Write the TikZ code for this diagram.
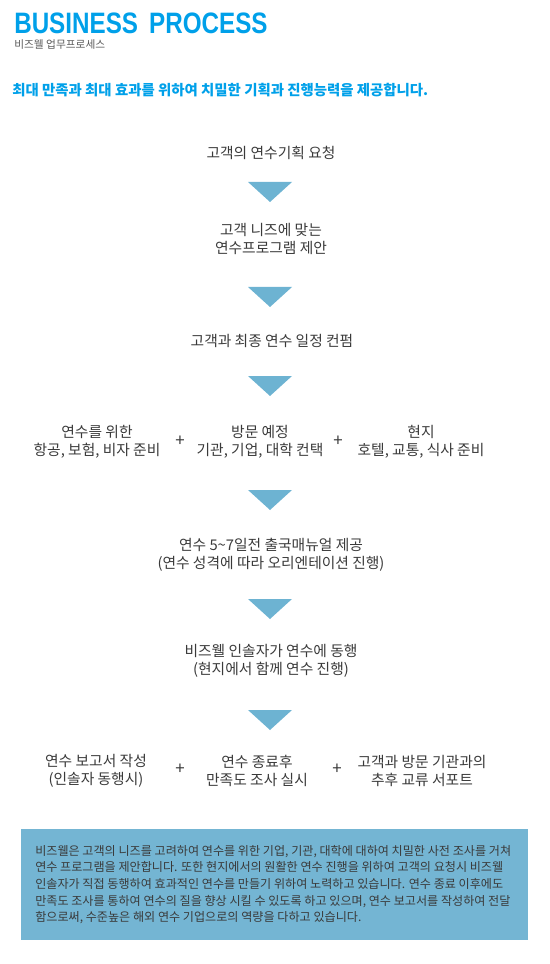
\documentclass[tikz,border=0pt]{standalone}
\usepackage{fontspec}
\usepackage{tikz}
\usetikzlibrary{positioning}
\setmainfont{Noto Sans CJK KR}
\newfontfamily\titlefont[FakeStretch=0.82]{Liberation Sans}

\definecolor{bizblue}{HTML}{00A0E9}
\definecolor{triblue}{HTML}{6DB3D2}
\definecolor{boxblue}{HTML}{74B5D3}
\definecolor{txtgray}{HTML}{3A3A3A}

\tikzset{
  steptxt/.style={text=txtgray,align=center,inner sep=0pt,
    font=\fontsize{10.5}{13.2}\selectfont},
  plussign/.style={text=txtgray,inner sep=0pt,font=\fontsize{12}{12}\selectfont},
  downtri/.style={fill=triblue},
}

\begin{document}
\begin{tikzpicture}[x=0.025cm,y=-0.025cm]
  \useasboundingbox (0,0) rectangle (550,964);

  % Heading
  \node[anchor=west,inner sep=0pt,text=bizblue,
    font=\titlefont\bfseries\fontsize{21}{21}\selectfont] (title) at (14,23) {BUSINESS\hspace{0.15em} PROCESS};
  \node[anchor=west,inner sep=0pt,text=black!65,font=\fontsize{7.6}{8}\selectfont] (sub) at (14,45) {비즈웰 업무프로세스};
  \node[anchor=west,inner sep=0pt,text=bizblue,font=\bfseries\fontsize{10.25}{11}\selectfont] (head) at (12,90)
    {최대 만족과 최대 효과를 위하여 치밀한 기획과 진행능력을 제공합니다.};

  % Steps
  \node[steptxt] (req) at (271,153) {고객의 연수기획 요청};
  \node[steptxt] (prop) at (271,239) {고객 니즈에 맞는\\연수프로그램 제안};
  \node[steptxt] (conf) at (272,341) {고객과 최종 연수 일정 컨펌};

  \node[steptxt] (prep1) at (97,442) {연수를 위한\\항공, 보험, 비자 준비};
  \node[steptxt] (prep2) at (260,442) {방문 예정\\기관, 기업, 대학 컨택};
  \node[steptxt] (prep3) at (421,442) {현지\\호텔, 교통, 식사 준비};
  \node[plussign] (plusa) at (180,441) {+};
  \node[plussign] (plusb) at (338,441) {+};

  \node[steptxt] (manual) at (271,555) {연수 5\textasciitilde7일전 출국매뉴얼 제공\\(연수 성격에 따라 오리엔테이션 진행)};
  \node[steptxt] (escort) at (271,661) {비즈웰 인솔자가 연수에 동행\\(현지에서 함께 연수 진행)};

  \node[steptxt] (post1) at (96,771) {연수 보고서 작성\\(인솔자 동행시)};
  \node[steptxt] (post2) at (257,771) {연수 종료후\\만족도 조사 실시};
  \node[steptxt] (post3) at (422,771) {고객과 방문 기관과의\\추후 교류 서포트};
  \node[plussign] (plusc) at (180,769) {+};
  \node[plussign] (plusd) at (337,769) {+};

  % Arrow triangles
  \foreach \y in {192,297,386,500,609,720}
    \fill[downtri] (248,\y-10) -- (292,\y-10) -- (270,\y+10) -- cycle;

  % Summary box
  \fill[boxblue] (21,829) rectangle (528,940);
  \node[anchor=north west,inner sep=0pt,align=left,text=txtgray,
    font=\fontsize{8.6}{11.8}\selectfont] (summary) at (35,845)
    {비즈웰은 고객의 니즈를 고려하여 연수를 위한 기업, 기관, 대학에 대하여 치밀한 사전 조사를 거쳐\\
     연수 프로그램을 제안합니다. 또한 현지에서의 원활한 연수 진행을 위하여 고객의 요청시 비즈웰\\
     인솔자가 직접 동행하여 효과적인 연수를 만들기 위하여 노력하고 있습니다. 연수 종료 이후에도\\
     만족도 조사를 통하여 연수의 질을 향상 시킬 수 있도록 하고 있으며, 연수 보고서를 작성하여 전달\\
     함으로써, 수준높은 해외 연수 기업으로의 역량을 다하고 있습니다.};
\end{tikzpicture}
\end{document}
